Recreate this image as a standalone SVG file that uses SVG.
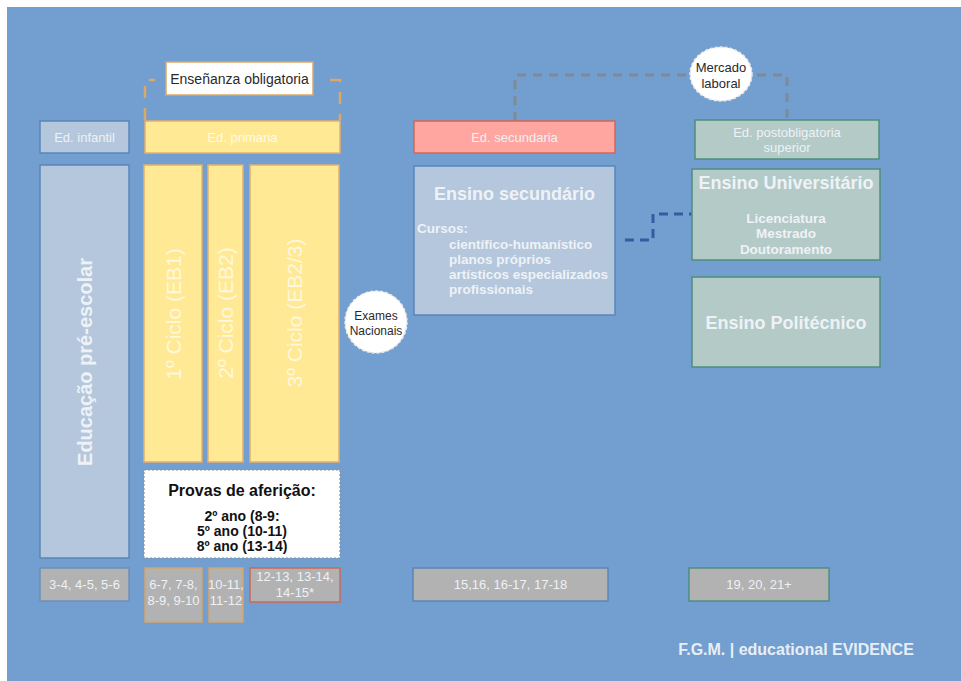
<svg xmlns="http://www.w3.org/2000/svg" width="961" height="681" viewBox="0 0 961 681">
  <style>
    text { font-family: "Liberation Sans", Arial, sans-serif; }
    .lbl { font-size: 13px; fill: #eef1f6; text-anchor: middle; }
    .age { fill: #b2b2b2; stroke-width: 1.5; }
    .blue { fill: #b4c7dc; stroke: #5b86b8; stroke-width: 1.5; }
    .yel { fill: #ffe994; stroke: #e3b070; stroke-width: 1.5; }
    .grn { fill: #b3cac7; stroke: #4e8f7e; stroke-width: 1.5; }
    .title { font-size: 18px; font-weight: bold; fill: #eef2f7; text-anchor: middle; }
    .bold13 { font-size: 13.5px; font-weight: bold; fill: #eef2f7; }
    .vert { font-size: 21px; fill: #fff8dc; text-anchor: middle; }
    .bubble { fill: #ffffff; stroke: #e8e8e8; stroke-width: 1.5; stroke-dasharray: 3 2; }
    .dark { fill: #2a2a2a; text-anchor: middle; }
    .prova { font-size: 14px; font-weight: bold; fill: #111111; text-anchor: middle; }
    .prova-head { font-size: 16px; font-weight: bold; fill: #111111; text-anchor: middle; }
  </style>

  <!-- page -->
  <rect x="0" y="0" width="961" height="681" fill="#ffffff"/>
  <rect x="7" y="7" width="954" height="674" fill="#729fcf"/>

  <!-- connectors -->
  <g id="connectors" fill="none">
    <path d="M145,120 V80 H155 M330,80 H340 V120" stroke="#dba866" stroke-width="2.5" stroke-dasharray="12 10"/>
    <path d="M515,121 V75 H787 V121" stroke="#7f8a96" stroke-width="3" stroke-dasharray="9 7"/>
    <path d="M625,240 H653 V214 H692" stroke="#2f5fa0" stroke-width="3" stroke-dasharray="9 6"/>
  </g>

  <!-- header labels -->
  <g id="obligatoria">
    <rect x="166" y="62" width="147" height="33" fill="#ffffff" stroke="#dba866" stroke-width="1.5"/>
    <text x="239.5" y="84" class="dark" font-size="14">Enseñanza obligatoria</text>
  </g>
  <g id="mercado">
    <ellipse cx="721" cy="74" rx="31" ry="27" class="bubble"/>
    <text x="721" y="72" class="dark" font-size="13">Mercado</text>
    <text x="721" y="88" class="dark" font-size="13">laboral</text>
  </g>

  <g id="ed-infantil">
    <rect x="40" y="121" width="89" height="32" class="blue"/>
    <text x="84.5" y="142" class="lbl">Ed. infantil</text>
  </g>
  <g id="ed-primaria">
    <rect x="145" y="121" width="195" height="32" class="yel"/>
    <text x="242.5" y="142" class="lbl" style="fill:#fffbe8">Ed. primaria</text>
  </g>
  <g id="ed-secundaria">
    <rect x="414" y="121" width="201" height="32" fill="#ffa6a0" stroke="#d0685a" stroke-width="1.5"/>
    <text x="514.5" y="142" class="lbl">Ed. secundaria</text>
  </g>
  <g id="ed-postobligatoria">
    <rect x="695" y="120" width="184" height="39" class="grn"/>
    <text x="787" y="137" class="lbl">Ed. postobligatoria</text>
    <text x="787" y="152" class="lbl">superior</text>
  </g>

  <!-- columns -->
  <g id="pre-escolar">
    <rect x="40" y="165" width="89" height="393" class="blue"/>
    <text transform="translate(92,362) rotate(-90)" text-anchor="middle" font-size="20" font-weight="bold" fill="#eef2f7">Educação pré-escolar</text>
  </g>
  <g id="ciclo1">
    <rect x="144" y="165" width="58" height="297" class="yel"/>
    <text transform="translate(181,314) rotate(-90)" class="vert">1º Ciclo (EB1)</text>
  </g>
  <g id="ciclo2">
    <rect x="208" y="165" width="35" height="297" class="yel"/>
    <text transform="translate(233,313) rotate(-90)" class="vert">2º Ciclo (EB2)</text>
  </g>
  <g id="ciclo3">
    <rect x="250" y="165" width="89" height="297" class="yel"/>
    <text transform="translate(302,313) rotate(-90)" class="vert">3º Ciclo (EB2/3)</text>
  </g>

  <g id="provas">
    <rect x="144" y="470" width="196" height="88" fill="#ffffff" stroke="#8a9099" stroke-width="1.2" stroke-dasharray="2 2"/>
    <text x="242" y="496" class="prova-head">Provas de aferição:</text>
    <text x="242" y="521" class="prova">2º ano (8-9:</text>
    <text x="242" y="536" class="prova">5º ano (10-11)</text>
    <text x="242" y="551" class="prova">8º ano (13-14)</text>
  </g>

  <g id="exames">
    <circle cx="376" cy="322" r="31" class="bubble"/>
    <text x="376" y="320" class="dark" font-size="12">Exames</text>
    <text x="376" y="335" class="dark" font-size="12">Nacionais</text>
  </g>

  <g id="ensino-secundario">
    <rect x="414" y="166" width="201" height="149" class="blue"/>
    <text x="514.5" y="200" class="title">Ensino secundário</text>
    <text x="417" y="233" class="bold13">Cursos:</text>
    <text x="449" y="249" class="bold13">científico-humanístico</text>
    <text x="449" y="264" class="bold13">planos próprios</text>
    <text x="449" y="279" class="bold13">artísticos especializados</text>
    <text x="449" y="294" class="bold13">profissionais</text>
  </g>

  <g id="ensino-universitario">
    <rect x="692" y="169" width="188" height="91" class="grn"/>
    <text x="786" y="189" class="title">Ensino Universitário</text>
    <text x="786" y="223" class="bold13" style="text-anchor:middle">Licenciatura</text>
    <text x="786" y="238" class="bold13" style="text-anchor:middle">Mestrado</text>
    <text x="786" y="254" class="bold13" style="text-anchor:middle">Doutoramento</text>
  </g>

  <g id="ensino-politecnico">
    <rect x="692" y="277" width="188" height="90" class="grn"/>
    <text x="786" y="329" class="title">Ensino Politécnico</text>
  </g>

  <!-- ages -->
  <g id="age-infantil">
    <rect x="40" y="568" width="89" height="33" class="age" stroke="#6f8fb8"/>
    <text x="84.5" y="589" class="lbl">3-4, 4-5, 5-6</text>
  </g>
  <g id="age-ciclo1">
    <rect x="145" y="568" width="57" height="54" class="age" stroke="#d7a46a"/>
    <text x="173.5" y="589" class="lbl">6-7, 7-8,</text>
    <text x="173.5" y="605" class="lbl">8-9, 9-10</text>
  </g>
  <g id="age-ciclo2">
    <rect x="209" y="568" width="34" height="54" class="age" stroke="#d7a46a"/>
    <text x="226" y="589" class="lbl">10-11,</text>
    <text x="226" y="605" class="lbl">11-12</text>
  </g>
  <g id="age-ciclo3">
    <rect x="250" y="568" width="90" height="34" class="age" stroke="#c96a5a"/>
    <text x="295" y="581" class="lbl">12-13, 13-14,</text>
    <text x="295" y="597" class="lbl">14-15*</text>
  </g>
  <g id="age-secundaria">
    <rect x="413" y="568" width="195" height="33" class="age" stroke="#5b86b8"/>
    <text x="510.5" y="589" class="lbl">15,16, 16-17, 17-18</text>
  </g>
  <g id="age-superior">
    <rect x="689" y="568" width="140" height="33" class="age" stroke="#4e8f7e"/>
    <text x="759" y="589" class="lbl">19, 20, 21+</text>
  </g>

  <text x="796" y="655" text-anchor="middle" font-size="16" font-weight="bold" fill="#e8eef6">F.G.M. | educational EVIDENCE</text>
</svg>
